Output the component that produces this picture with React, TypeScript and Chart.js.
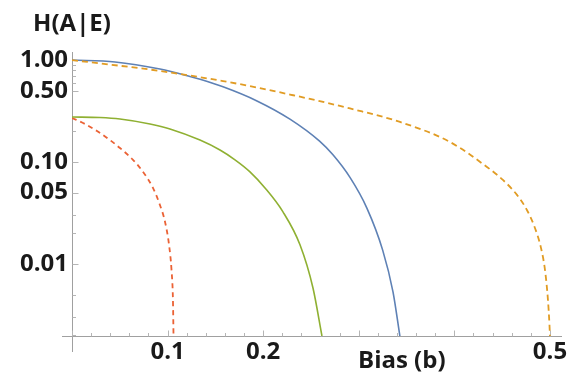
import React, { useEffect, useRef } from "react";
import { Chart, registerables } from "chart.js";

Chart.register(...registerables);

// Bias values (x) and H(A|E) values (y)
const blueX = [0, 0.045, 0.092, 0.1234, 0.134, 0.158, 0.1935, 0.228, 0.259, 0.273, 0.2908, 0.3086, 0.325, 0.3358, 0.343];
const blueY = [1.0, 0.959, 0.816, 0.69, 0.647, 0.546, 0.397, 0.263, 0.16, 0.1175, 0.0705, 0.0351, 0.01365, 0.00531, 0.00196];

const orangeX = [0, 0.0397, 0.0816, 0.1234, 0.158, 0.1935, 0.228, 0.2563, 0.2908, 0.3431, 0.3954, 0.4341, 0.4508, 0.4655, 0.4759, 0.4843, 0.4906, 0.4948, 0.4979, 0.4995, 0.5];
const orangeY = [1.0, 0.903, 0.807, 0.705, 0.622, 0.538, 0.459, 0.401, 0.335, 0.247, 0.157, 0.0893, 0.0666, 0.0475, 0.0338, 0.0225, 0.01435, 0.00873, 0.00444, 0.00252, 0.00196];

const greenX = [0, 0.0293, 0.0502, 0.0816, 0.1025, 0.1339, 0.1548, 0.1705, 0.1862, 0.2019, 0.2207, 0.2385, 0.2521, 0.2615];
const greenY = [0.276, 0.273, 0.264, 0.236, 0.211, 0.164, 0.131, 0.105, 0.08, 0.0556, 0.0324, 0.0154, 0.0058, 0.00196];

const redX = [0, 0.0136, 0.0262, 0.0397, 0.0502, 0.0638, 0.0743, 0.0847, 0.092, 0.0973, 0.1015, 0.1041, 0.1056, 0.1062];
const redY = [0.27, 0.236, 0.201, 0.164, 0.137, 0.105, 0.0799, 0.0556, 0.0378, 0.0259, 0.0154, 0.00873, 0.00444, 0.00196];

const xLabels = [0.1, 0.2, 0.5];
const yTicks = [1, 0.9, 0.8, 0.7, 0.6, 0.5, 0.2, 0.1, 0.05, 0.03, 0.02, 0.01, 0.005, 0.003, 0.002];
const yLabels = [1, 0.5, 0.1, 0.05, 0.01];

const TEXT = "#1a1a1a";
const AXIS = "#a0a0a0";
const FONT_FAMILY = '"Open Sans", sans-serif';

const near = (a: number, b: number) => Math.abs(a - b) < 1e-6;

const toPoints = (xs: number[], ys: number[]) => xs.map((x, i) => ({ x, y: ys[i] }));

const decorPlugin = {
  id: "decor",
  beforeDatasetsDraw(chart: any) {
    const { ctx, chartArea, scales } = chart;
    const xs = scales.x;
    const ys = scales.y;
    ctx.save();
    ctx.strokeStyle = AXIS;
    ctx.lineWidth = 1;
    const y0 = Math.round(chartArea.bottom) + 0.5;
    const x0 = Math.round(chartArea.left) + 0.5;
    ctx.beginPath();
    ctx.moveTo(chartArea.left - 10, y0);
    ctx.lineTo(chartArea.right, y0);
    ctx.stroke();
    ctx.beginPath();
    ctx.moveTo(x0, chartArea.top);
    ctx.lineTo(x0, chartArea.bottom + 16);
    ctx.stroke();
    ctx.strokeStyle = "#b5b5b5";
    xs.ticks.forEach((t: any) => {
      const px = Math.round(xs.getPixelForValue(t.value)) + 0.5;
      const major = near(t.value * 10, Math.round(t.value * 10));
      ctx.beginPath();
      ctx.moveTo(px, y0);
      ctx.lineTo(px, y0 - (major ? 6 : 3.5));
      ctx.stroke();
    });
    ys.ticks.forEach((t: any) => {
      const py = Math.round(ys.getPixelForValue(t.value)) + 0.5;
      const major = yLabels.some((v) => near(v, t.value));
      ctx.beginPath();
      ctx.moveTo(x0, py);
      ctx.lineTo(x0 + (major ? 6 : 3.5), py);
      ctx.stroke();
    });
    ctx.fillStyle = TEXT;
    ctx.font = `bold 24px ${FONT_FAMILY}`;
    ctx.textAlign = "center";
    ctx.textBaseline = "middle";
    ctx.fillText("H(A|E)", chartArea.left, chartArea.top - 28);
    ctx.fillText("Bias (b)", xs.getPixelForValue(0.345), chartArea.bottom + 25);
    ctx.restore();
  },
};

export default function App() {
  const ref = useRef<HTMLCanvasElement | null>(null);

  useEffect(() => {
    if (!ref.current) return;
    const chart = new Chart(ref.current, {
      type: "line",
      data: {
        datasets: [
          {
            data: toPoints(orangeX, orangeY),
            borderColor: "#E19C24",
            borderWidth: 1.8,
            borderDash: [6, 4],
            pointRadius: 0,
            cubicInterpolationMode: "monotone",
          },
          {
            data: toPoints(blueX, blueY),
            borderColor: "#5E81B5",
            borderWidth: 1.6,
            pointRadius: 0,
            cubicInterpolationMode: "monotone",
          },
          {
            data: toPoints(greenX, greenY),
            borderColor: "#8FB032",
            borderWidth: 1.6,
            pointRadius: 0,
            cubicInterpolationMode: "monotone",
          },
          {
            data: toPoints(redX, redY),
            borderColor: "#EB6235",
            borderWidth: 1.8,
            borderDash: [5, 4],
            pointRadius: 0,
            cubicInterpolationMode: "monotone",
          },
        ],
      },
      options: {
        responsive: false,
        animation: false,
        layout: { padding: { top: 52, right: 9, left: 0, bottom: 0 } },
        plugins: { legend: { display: false }, tooltip: { enabled: false } },
        scales: {
          x: {
            type: "linear",
            min: 0,
            max: 0.5126,
            grid: { display: false, drawTicks: false },
            border: { display: false },
            afterFit: (scale: any) => {
              scale.height = 43;
            },
            ticks: {
              stepSize: 0.02,
              includeBounds: false,
              autoSkip: false,
              maxRotation: 0,
              minRotation: 0,
              padding: 2,
              color: TEXT,
              font: { family: FONT_FAMILY, weight: "bold", size: 24 },
              callback: (value: any) => {
                const v = Number(value);
                const hit = xLabels.find((l) => near(l, v));
                return hit !== undefined ? String(hit) : "";
              },
            },
          },
          y: {
            type: "logarithmic",
            min: 0.00196,
            max: 1.2,
            grid: { display: false, drawTicks: false },
            border: { display: false },
            afterFit: (scale: any) => {
              scale.width = 72;
            },
            afterBuildTicks: (scale: any) => {
              scale.ticks = yTicks.map((v) => ({ value: v }));
            },
            ticks: {
              autoSkip: false,
              padding: 4,
              color: TEXT,
              font: { family: FONT_FAMILY, weight: "bold", size: 24 },
              callback: (value: any) => {
                const v = Number(value);
                return yLabels.some((l) => near(l, v)) ? v.toFixed(2) : "";
              },
            },
          },
        },
      },
      plugins: [decorPlugin],
    });
    return () => chart.destroy();
  }, []);

  return (
    <div style={{ position: "absolute", left: 0, top: 0, width: 571, height: 379, background: "#fff" }}>
      <canvas ref={ref} width={571} height={379} />
    </div>
  );
}
